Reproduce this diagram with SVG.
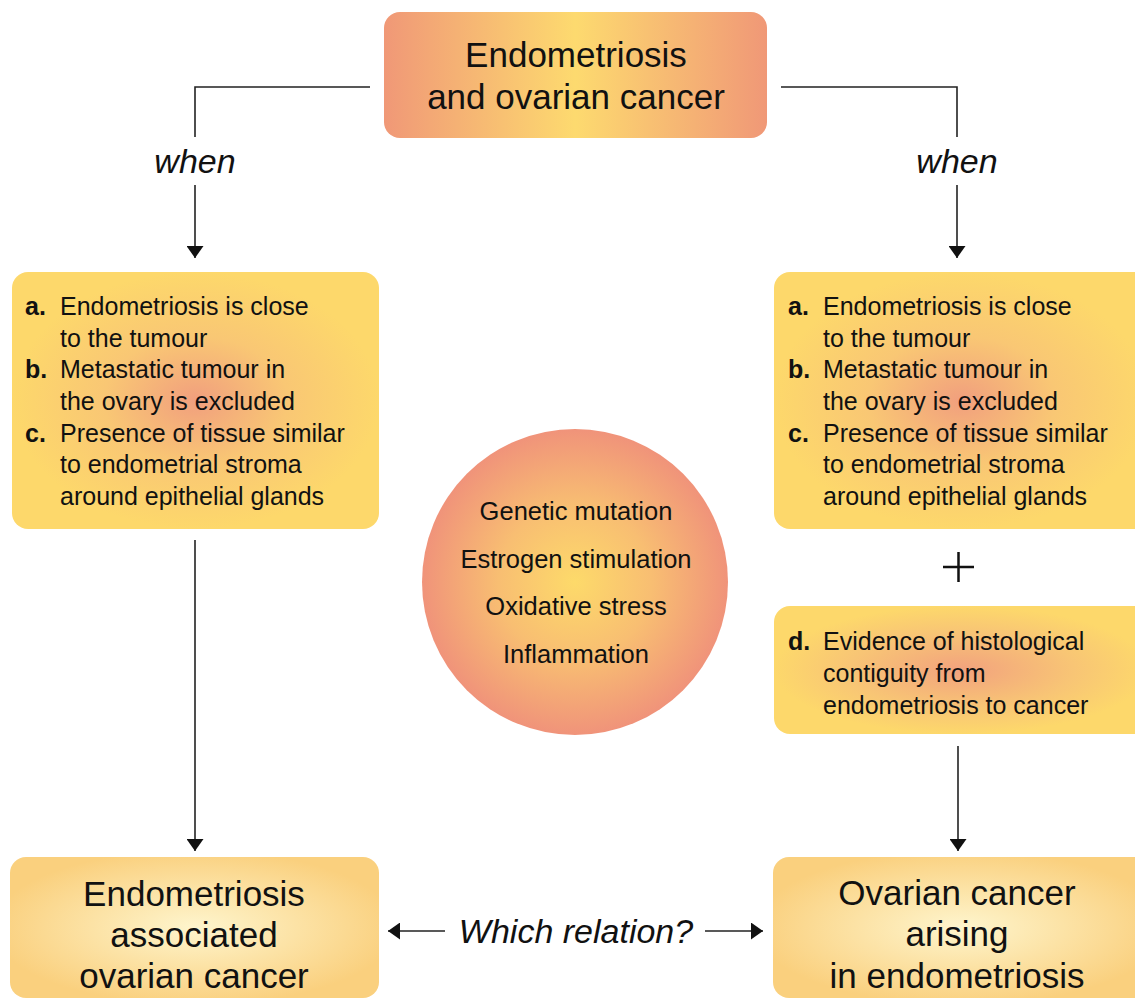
<svg xmlns="http://www.w3.org/2000/svg" width="1135" height="1001" viewBox="0 0 1135 1001">
<defs>
<linearGradient id="gTop" x1="0" y1="0" x2="1" y2="0">
<stop offset="0" stop-color="#F09877"/>
<stop offset="0.5" stop-color="#FDDA6F"/>
<stop offset="1" stop-color="#F09877"/>
</linearGradient>
<radialGradient id="gInfo" cx="0.5" cy="0.5" r="0.5">
<stop offset="0" stop-color="#F19F7E"/>
<stop offset="0.5" stop-color="#F9C774"/>
<stop offset="1" stop-color="#FDD86B"/>
</radialGradient>
<radialGradient id="gD" cx="0.5" cy="0.5" r="0.5">
<stop offset="0" stop-color="#F2A27E"/>
<stop offset="0.6" stop-color="#F8C575"/>
<stop offset="1" stop-color="#FDD86B"/>
</radialGradient>
<radialGradient id="gBot" cx="0.5" cy="0.5" r="0.55">
<stop offset="0" stop-color="#FEF5CD"/>
<stop offset="1" stop-color="#FAD07E"/>
</radialGradient>
<radialGradient id="gCircle" cx="0.5" cy="0.5" r="0.5">
<stop offset="0" stop-color="#FDDA6A"/>
<stop offset="0.5" stop-color="#F8BE72"/>
<stop offset="1" stop-color="#F0937A"/>
</radialGradient>
<marker id="arr" markerUnits="userSpaceOnUse" markerWidth="12" markerHeight="17" viewBox="0 0 12 17" refX="12" refY="8.5" orient="auto">
<path d="M0,0 L12,8.5 L0,17 Z" fill="#111"/>
</marker>
</defs>
<style>
.big{font-family:"Liberation Sans",Arial,sans-serif;font-size:35px;fill:#111;text-anchor:middle}
.ital{font-family:"Liberation Sans",Arial,sans-serif;font-size:34px;font-style:italic;fill:#111;text-anchor:middle}
.item{font-family:"Liberation Sans",Arial,sans-serif;font-size:25px;fill:#111}
.lbl{font-family:"Liberation Sans",Arial,sans-serif;font-size:25px;font-weight:bold;fill:#111}
.fac{font-family:"Liberation Sans",Arial,sans-serif;font-size:25.5px;fill:#111;text-anchor:middle}
.conn{stroke:#222;stroke-width:1.6;fill:none}
</style>
<rect width="1135" height="1001" fill="#fff"/>

<g id="top">
<rect x="384" y="12" width="383" height="126" rx="16" fill="url(#gTop)"/>
<text class="big" x="576" y="67">Endometriosis</text>
<text class="big" x="576" y="109">and ovarian cancer</text>
</g>

<g id="criteria-left">
<rect x="12" y="272" width="367" height="257" rx="16" fill="url(#gInfo)"/>
<text class="lbl" x="25" y="315">a.</text>
<text class="item" x="60" y="315">Endometriosis is close</text>
<text class="item" x="60" y="347">to the tumour</text>
<text class="lbl" x="25" y="378">b.</text>
<text class="item" x="60" y="378">Metastatic tumour in</text>
<text class="item" x="60" y="410">the ovary is excluded</text>
<text class="lbl" x="25" y="442">c.</text>
<text class="item" x="60" y="442">Presence of tissue similar</text>
<text class="item" x="60" y="473">to endometrial stroma</text>
<text class="item" x="60" y="505">around epithelial glands</text>
</g>

<g id="criteria-right">
<rect x="774" y="272" width="375" height="257" rx="16" fill="url(#gInfo)"/>
<text class="lbl" x="788" y="315">a.</text>
<text class="item" x="823" y="315">Endometriosis is close</text>
<text class="item" x="823" y="347">to the tumour</text>
<text class="lbl" x="788" y="378">b.</text>
<text class="item" x="823" y="378">Metastatic tumour in</text>
<text class="item" x="823" y="410">the ovary is excluded</text>
<text class="lbl" x="788" y="442">c.</text>
<text class="item" x="823" y="442">Presence of tissue similar</text>
<text class="item" x="823" y="473">to endometrial stroma</text>
<text class="item" x="823" y="505">around epithelial glands</text>
</g>

<g id="plus">
<path d="M943,567 H974 M958.5,552 V582" stroke="#111" stroke-width="2.5" fill="none"/>
</g>

<g id="criterion-d">
<rect x="774" y="606" width="375" height="128" rx="16" fill="url(#gD)"/>
<text class="lbl" x="788" y="650">d.</text>
<text class="item" x="823" y="650">Evidence of histological</text>
<text class="item" x="823" y="682">contiguity from</text>
<text class="item" x="823" y="714">endometriosis to cancer</text>
</g>

<g id="factors">
<circle cx="575" cy="582" r="153" fill="url(#gCircle)"/>
<text class="fac" x="576" y="520">Genetic mutation</text>
<text class="fac" x="576" y="568">Estrogen stimulation</text>
<text class="fac" x="576" y="615">Oxidative stress</text>
<text class="fac" x="576" y="663">Inflammation</text>
</g>

<g id="eaoc">
<rect x="10" y="857" width="369" height="141" rx="16" fill="url(#gBot)"/>
<text class="big" x="194" y="906">Endometriosis</text>
<text class="big" x="194" y="947">associated</text>
<text class="big" x="194" y="988">ovarian cancer</text>
</g>

<g id="ocae">
<rect x="773" y="857" width="376" height="141" rx="16" fill="url(#gBot)"/>
<text class="big" x="957" y="905">Ovarian cancer</text>
<text class="big" x="957" y="946">arising</text>
<text class="big" x="957" y="988">in endometriosis</text>
</g>

<g id="connectors">
<path class="conn" d="M370,87 H195 V137"/>
<path class="conn" d="M195,185 V258" marker-end="url(#arr)"/>
<path class="conn" d="M781,87 H957 V137"/>
<path class="conn" d="M957,185 V258" marker-end="url(#arr)"/>
<path class="conn" d="M195,540 V851" marker-end="url(#arr)"/>
<path class="conn" d="M958,746 V851" marker-end="url(#arr)"/>
<path class="conn" d="M445,931 H388" marker-end="url(#arr)"/>
<path class="conn" d="M705,931 H763" marker-end="url(#arr)"/>
<text class="ital" x="195" y="173">when</text>
<text class="ital" x="957" y="173">when</text>
<text class="ital" x="576" y="943">Which relation?</text>
</g>
</svg>
